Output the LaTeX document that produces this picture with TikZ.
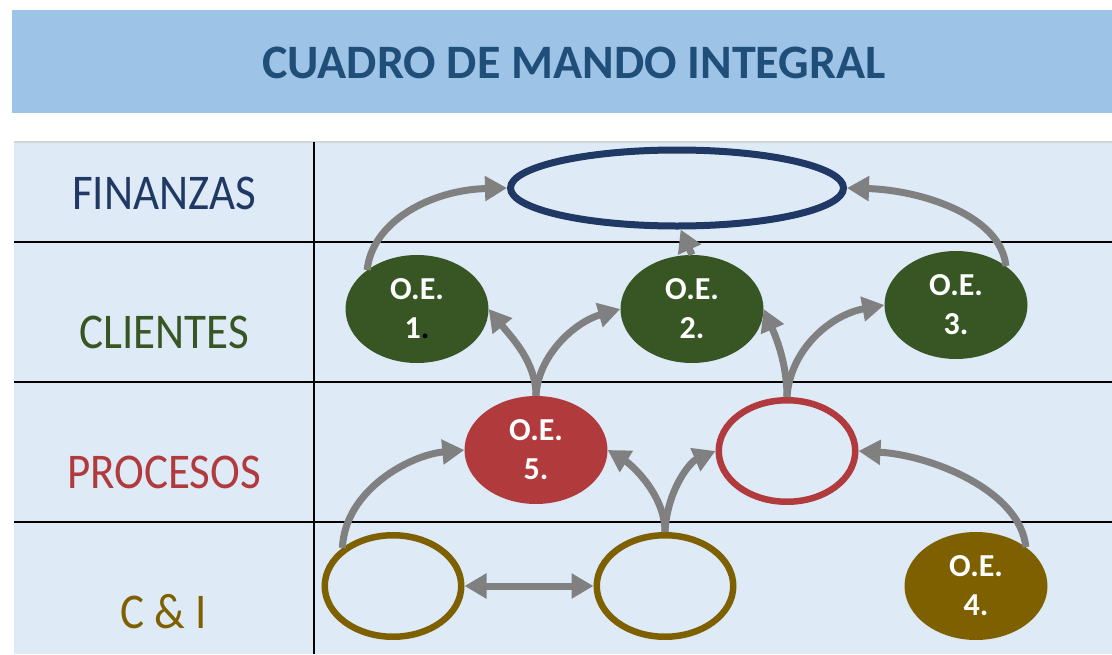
\documentclass[tikz,border=0pt]{standalone}
\usepackage{fontspec}
\setmainfont{Carlito}
\newfontfamily\lblfont[FakeStretch=0.9]{Carlito}
\usetikzlibrary{arrows.meta,shapes.geometric}
\definecolor{band}{HTML}{9DC3E6}
\definecolor{tablebg}{HTML}{DEEBF7}
\definecolor{titlec}{HTML}{1F4E79}
\definecolor{finc}{HTML}{1F3864}
\definecolor{cliec}{HTML}{375623}
\definecolor{proc}{HTML}{B13A3D}
\definecolor{cic}{HTML}{7F6000}
\definecolor{arrgray}{HTML}{808080}
\definecolor{toprule}{HTML}{D4D4D4}
\tikzset{
  oefill/.style={ellipse, minimum width=143pt, minimum height=108pt, inner sep=0pt,
    fill=#1, text=white, align=center, font=\fontsize{32}{39}\selectfont\bfseries},
  oering/.style={ellipse, draw=#1, line width=6.5pt, minimum width=136.5pt, minimum height=101.5pt, inner sep=0pt},
  lbl/.style={anchor=base, font=\lblfont\fontsize{50}{60}\selectfont},
  arr/.style={draw=arrgray, line width=7pt, -{Triangle[length=22pt,width=24pt]}},
  gridline/.style={draw=black, line width=2pt}
}
\begin{document}
\begin{tikzpicture}[x=1pt,y=-1pt]
\useasboundingbox (0,0) rectangle (1112,654);
\fill[white] (0,0) rectangle (1112,654);
\fill[band] (12,10) rectangle (1112,113);
\fill[tablebg] (14,142) rectangle (1112,654);
\draw[toprule, line width=2pt] (14,142) -- (1112,142);
\foreach \yy in {242,382,522} \draw[gridline] (14,\yy) -- (1112,\yy);
\draw[gridline] (314,142) -- (314,654);

\node[anchor=base, text=titlec, font=\fontsize{48}{58}\selectfont\bfseries] (title) at (574,78) {CUADRO DE MANDO INTEGRAL};

\node[lbl, text=finc] (lfin) at (164,209) {FINANZAS};
\node[lbl, text=cliec] (lcli) at (164,348) {CLIENTES};
\node[lbl, text=proc] (lpro) at (164,488) {PROCESOS};
\node[lbl, text=cic] (lci) at (164,628) {C \& I};

\node[ellipse, draw=finc, line width=7pt, minimum width=333pt, minimum height=76pt, inner sep=0pt] (fin) at (677,188) {};

\node[oefill=cliec] (oe1) at (417,309) {O.E.\\1\textcolor{black}{.}};
\node[oefill=cliec] (oe2) at (692,309) {O.E.\\2.};
\node[oefill=cliec] (oe3) at (956,305) {O.E.\\3.};
\node[oefill=proc] (oe5) at (536,450) {O.E.\\5.};
\node[oering=proc] (red) at (787,451) {};
\node[oering=cic] (ci1) at (393,586) {};
\node[oering=cic] (ci2) at (665,586) {};
\node[oefill=cic] (oe4) at (976,586) {O.E.\\4.};

\draw[arr] (oe1.142) .. controls (372,222) and (430,190) .. (fin.west);
\draw[arr] (oe2.north) -- (fin.275);
\draw[arr] (oe3.38) .. controls (1001,215) and (920,190) .. (fin.east);
\draw[arr] (oe5.north) .. controls (536,362) and (512,338) .. (oe1.east);
\draw[arr] (oe5.north) .. controls (538,355) and (575,322) .. (oe2.west);
\draw[arr] (red.north) .. controls (787,362) and (775,335) .. (oe2.east);
\draw[arr] (red.north) .. controls (790,350) and (830,315) .. (oe3.west);
\draw[arr] (ci1.143) .. controls (345,490) and (410,455) .. (oe5.west);
\draw[arr, {Triangle[length=22pt,width=24pt]}-{Triangle[length=22pt,width=24pt]}] (ci1.east) -- (ci2.west);
\draw[arr] (ci2.north) .. controls (665,495) and (632,465) .. (oe5.east);
\draw[arr] (ci2.north) .. controls (667,490) and (690,462) .. (red.west);
\draw[arr] (oe4.38) .. controls (1020,490) and (930,455) .. (red.east);
\end{tikzpicture}
\end{document}
